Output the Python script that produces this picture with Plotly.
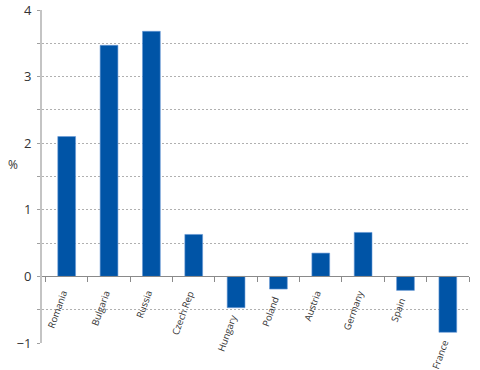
import plotly.graph_objects as go

countries = ["Romania", "Bulgaria", "Russia", "Czech Rep", "Hungary",
             "Poland", "Austria", "Germany", "Spain", "France"]
values = [2.10, 3.47, 3.68, 0.63, -0.47, -0.19, 0.35, 0.66, -0.21, -0.84]
y_ticks = [4, 3, 2, 1, 0, -1]
y_tick_labels = ["4", "3", "2", "1", "0", "\u22121"]

FONT = "Open Sans"
TXT = "#333333"

fig = go.Figure(go.Bar(
    x=countries, y=values,
    marker=dict(color="#0054A6", line=dict(color="#6a9bd6", width=0.6)),
    hoverinfo="skip",
))

annotations = []
for c, v in zip(countries, values):
    annotations.append(dict(
        x=c, y=min(v, 0), xref="x", yref="y",
        text=c, showarrow=False, textangle=-70,
        xanchor="right", yanchor="top",
        xshift=6, yshift=-10 if v >= 0 else -3,
        font=dict(family=FONT, size=9.5, color=TXT),
    ))
annotations.append(dict(
    x=0, y=0.535, xref="paper", yref="paper", xshift=-29,
    text="%", showarrow=False, xanchor="center", yanchor="middle",
    font=dict(family=FONT, size=12, color=TXT),
))

fig.update_layout(
    width=480, height=370,
    margin=dict(l=42, r=11, t=10, b=27, autoexpand=False),
    plot_bgcolor="white", paper_bgcolor="white",
    bargap=0.58, showlegend=False,
    annotations=annotations,
    font=dict(family=FONT, size=11, color=TXT),
)
fig.update_xaxes(
    anchor="free", position=0.2, automargin=False,
    showline=True, linecolor="#8a8a8a", linewidth=1,
    ticks="outside", tickson="boundaries", ticklen=5, tickcolor="#8a8a8a",
    showticklabels=False, showgrid=False, zeroline=False,
)
fig.update_yaxes(
    range=[-1, 4], tickvals=y_ticks, ticktext=y_tick_labels, automargin=False,
    showline=True, linecolor="#c4c4c4", linewidth=2,
    showgrid=True, gridcolor="#b0b0b0", griddash="2px,2px", gridwidth=1,
    minor=dict(dtick=0.5, showgrid=True, gridcolor="#b0b0b0", griddash="2px,2px",
               ticks="outside", ticklen=3, tickcolor="#a0a0a0"),
    zeroline=False, ticks="outside", ticklen=3, tickcolor="#a0a0a0",
    ticklabelstandoff=3,
    tickfont=dict(family=FONT, size=13, color=TXT),
)

fig.write_html("out.html", config={"displayModeBar": False},
               post_script="document.body.style.margin='0px';")
